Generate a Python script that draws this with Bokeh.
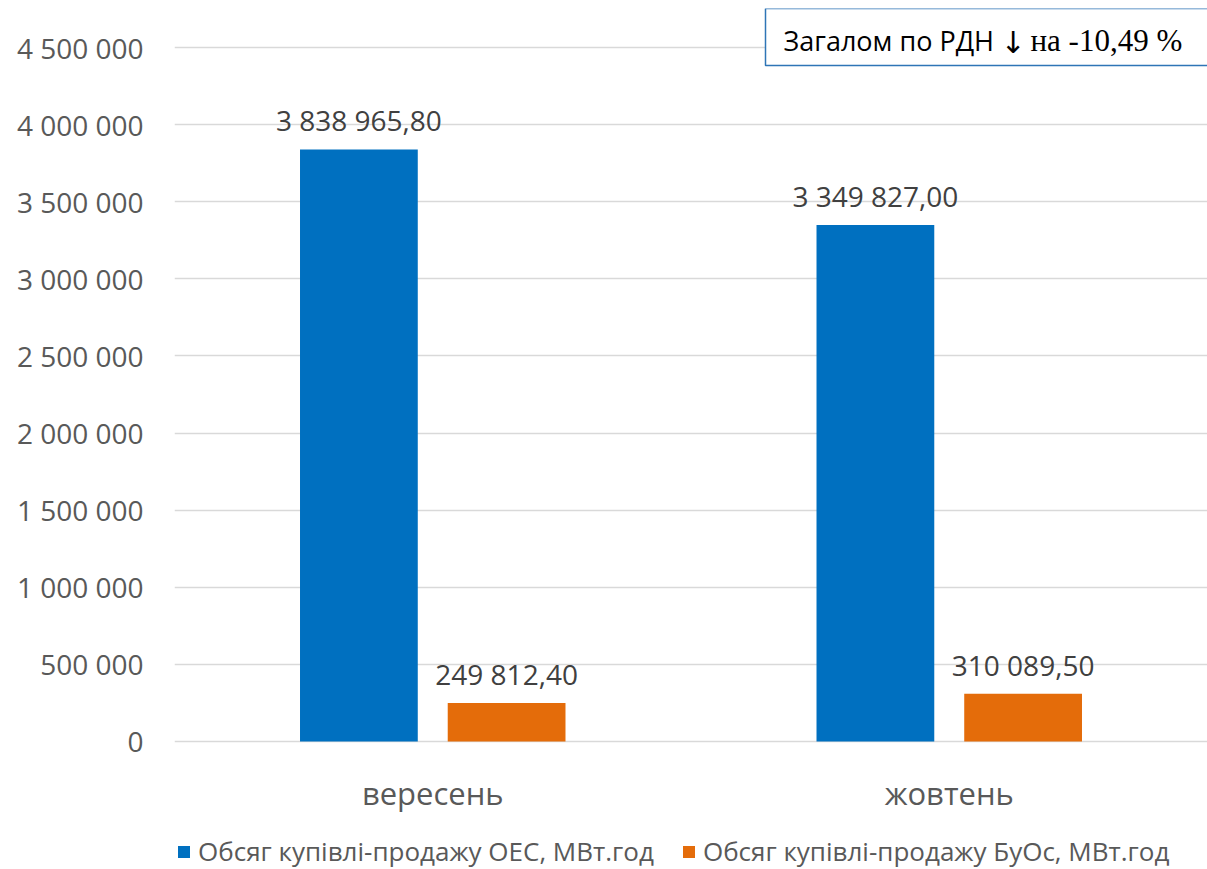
from bokeh.plotting import figure
from bokeh.models import (FactorRange, Range1d, ColumnDataSource, Legend, LegendItem,
                          CustomJSTickFormatter, BoxAnnotation, Label)
from bokeh.transform import dodge
from bokeh.core.properties import value
from bokeh.embed import file_html
from bokeh.resources import INLINE

categories = ["вересень", "жовтень"]
oes = [3838965.80, 3349827.00]
buos = [249812.40, 310089.50]
series_names = ["Обсяг купівлі-продажу ОЕС, МВт.год", "Обсяг купівлі-продажу БуОс, МВт.год"]
y_ticks = [0, 500000, 1000000, 1500000, 2000000, 2500000, 3000000, 3500000, 4000000, 4500000]
note_sans = "Загалом по РДН"
note_arrow = "↓"
note_serif = "на -10,49 %"

def fmt(v):
    s = f"{v:,.2f}"
    return s.replace(",", " ").replace(".", ",")

src = ColumnDataSource(dict(
    cat=categories, oes=oes, buos=buos,
    base=[0] * len(categories),
    oes_lbl=[fmt(v) for v in oes], buos_lbl=[fmt(v) for v in buos],
))

FONT = "Open Sans"
BLUE = "#0070C0"
ORANGE = "#E46C0A"

# frame spans down to the page bottom; the area below zero holds category names and legend
p = figure(x_range=FactorRange(*categories), y_range=Range1d(-830000, 4753000),
           width=1207, height=869, x_axis_location=None,
           min_border_left=174, min_border_right=0, min_border_top=8, min_border_bottom=0,
           output_backend="svg", toolbar_location=None)
p.outline_line_color = None
p.x_range.range_padding = 0

off = 0.143
bw = 0.228
r1 = p.vbar(x=dodge("cat", -off, range=p.x_range), top="oes", width=bw, source=src,
            color=BLUE, line_color=None)
r2 = p.vbar(x=dodge("cat", off, range=p.x_range), top="buos", width=bw, source=src,
            color=ORANGE, line_color=None)

for col, lbl, o in (("oes", "oes_lbl", -off), ("buos", "buos_lbl", off)):
    p.text(x=dodge("cat", o, range=p.x_range), y=col, text=lbl, source=src,
           text_align="center", text_baseline="bottom", y_offset=-10,
           text_font=value(FONT), text_font_size="28px", text_color="#404040")

# category names under the zero line
p.text(x="cat", y="base", text="cat", source=src, text_align="center", text_baseline="middle",
       y_offset=52, text_font=value(FONT), text_font_size="31px", text_color="#595959")

p.yaxis.ticker = y_ticks
p.yaxis.formatter = CustomJSTickFormatter(code="return tick.toString().replace(/\\B(?=(\\d{3})+(?!\\d))/g, ' ');")
p.yaxis.axis_line_color = None
p.yaxis.major_tick_line_color = None
p.yaxis.minor_tick_line_color = None
p.yaxis.major_tick_out = 0
p.yaxis.major_tick_in = 0
p.yaxis.minor_tick_out = 0
p.yaxis.major_label_text_color = "#595959"
p.yaxis.major_label_text_font = FONT
p.yaxis.major_label_text_font_size = "28px"
p.yaxis.major_label_standoff = 31

p.xgrid.grid_line_color = None
p.ygrid.grid_line_color = "#D9D9D9"
p.ygrid.grid_line_width = 1.5

legend = Legend(items=[LegendItem(label=series_names[0], renderers=[r1]),
                       LegendItem(label=series_names[1], renderers=[r2])],
                orientation="horizontal", location=(2, 0),
                label_text_font=FONT, label_text_font_size="26px", label_text_color="#595959",
                glyph_width=15, glyph_height=15, label_standoff=7, spacing=27,
                border_line_color=None, background_fill_alpha=0, margin=0, padding=0)
p.add_layout(legend)

box = BoxAnnotation(left=591, right=1200, top=861, bottom=804,
                    left_units="screen", right_units="screen", top_units="screen", bottom_units="screen",
                    fill_color="white", fill_alpha=1, line_color="#2E75B6", line_alpha=1, line_width=1.5)
p.add_layout(box)
p.add_layout(Label(x=609, y=829, x_units="screen", y_units="screen", text=note_sans,
                   text_font=FONT, text_font_size="27px", text_color="black", text_baseline="alphabetic"))
p.add_layout(Label(x=826, y=827, x_units="screen", y_units="screen", text=note_arrow,
                   text_font="DejaVu Sans", text_font_size="30px", text_color="black", text_baseline="alphabetic"))
p.add_layout(Label(x=856, y=829, x_units="screen", y_units="screen", text=note_serif,
                   text_font="Liberation Serif", text_font_size="31px", text_color="black",
                   text_baseline="alphabetic"))

open("out.html", "w").write(file_html(p, INLINE))
